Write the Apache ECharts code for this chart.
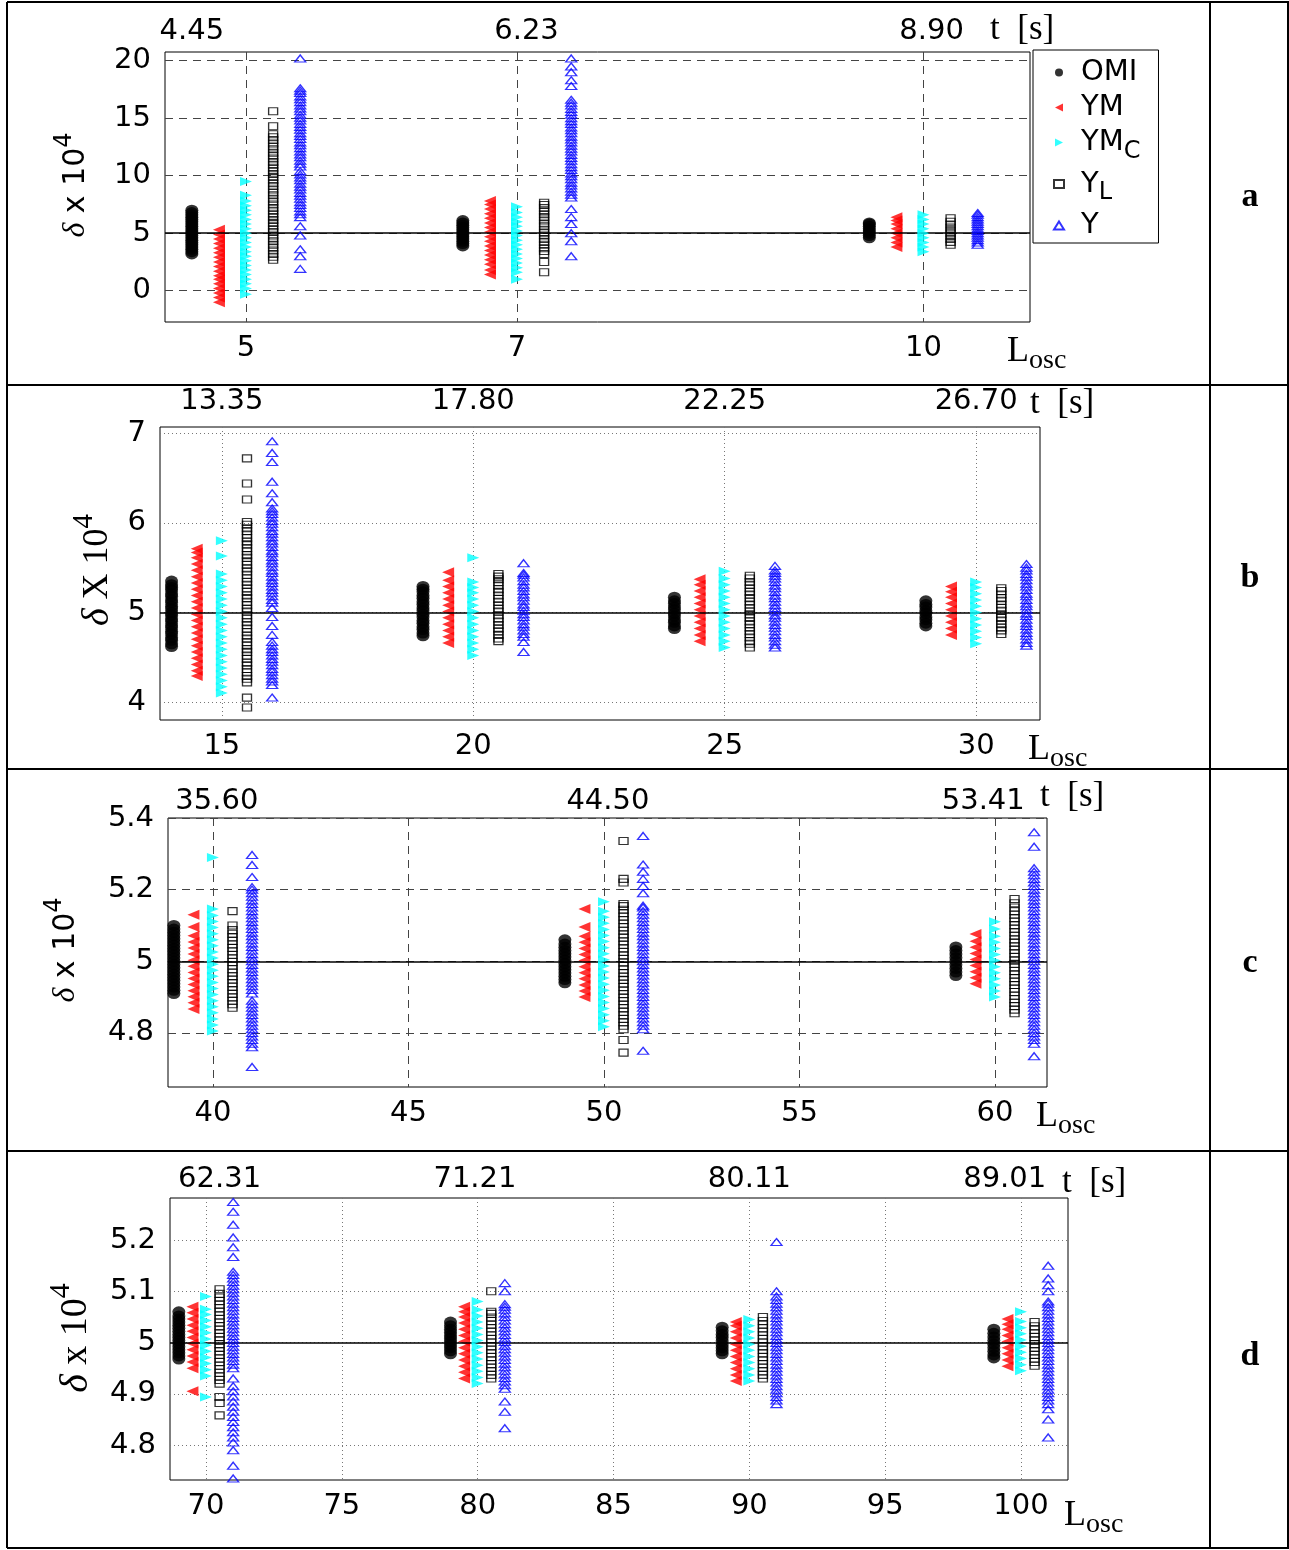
<!DOCTYPE html>
<html>
<head>
<meta charset="utf-8">
<script src="https://cdn.jsdelivr.net/npm/echarts@6.0.0/dist/echarts.min.js"></script>
<style>
html,body{margin:0;padding:0;background:#fff;}
#chart{width:1289px;height:1550px;}
</style>
</head>
<body>
<div id="chart"></div>
<script>
var names = ['OMI', 'YM', 'YMC', 'YL', 'Y'];

// panel a : L_osc 5, 7, 10
var aCenters = [5, 7, 10];
var aOffsets = [-0.4, -0.2, 0, 0.2, 0.4];
var aOMI = [
  [3.2,3.4,3.6,3.8,4.0,4.2,4.4,4.6,4.8,5.0,5.2,5.4,5.6,5.8,6.0,6.2,6.4,6.6,6.8,7.0],
  [3.9,4.1,4.3,4.5,4.7,4.9,5.1,5.3,5.5,5.7,5.9,6.1],
  [4.6,4.8,5.0,5.2,5.4,5.6,5.8,5.9]
];
var aYM = [
  [-1.0,-0.6,-0.2,0.2,0.6,1.0,1.3,1.7,2.1,2.5,2.9,3.3,3.7,4.1,4.5,4.9,5.3],
  [1.4,1.8,2.3,2.7,3.1,3.5,3.9,4.3,4.7,5.1,5.5,5.9,6.3,6.7,7.1,7.5,7.8],
  [3.8,4.2,4.6,5.0,5.4,5.8,6.1,6.4]
];
var aYMC = [
  [-0.3,0.2,0.6,1.0,1.4,1.8,2.2,2.6,3.0,3.4,3.8,4.2,4.6,5.0,5.4,5.8,6.2,6.6,7.0,7.4,7.8,8.3,9.5],
  [1.0,1.6,2.0,2.4,2.8,3.2,3.6,4.0,4.4,4.8,5.2,5.6,6.0,6.4,6.8,7.3],
  [3.4,3.8,4.2,4.6,5.0,5.4,5.8,6.2,6.6]
];
var aYL = [
  [2.7,2.95,3.2,3.5,3.75,4.0,4.3,4.55,4.8,5.1,5.35,5.6,5.9,6.15,6.4,6.7,6.95,7.2,7.5,7.75,8.0,8.3,8.55,8.8,9.1,9.35,9.6,9.9,10.15,10.4,10.7,10.95,11.2,11.5,11.75,12.0,12.3,12.55,12.8,13.1,13.35,13.6,14.3,15.6],
  [1.6,2.5,3.2,3.45,3.7,4.0,4.25,4.5,4.8,5.05,5.3,5.6,5.85,6.1,6.4,6.65,6.9,7.2,7.45,7.65],
  [4.0,4.25,4.5,4.75,5.0,5.25,5.5,5.75,6.0,6.3]
];
var aY = [
  [1.9,3.0,3.6,4.8,5.6,6.4,6.65,6.9,7.2,7.45,7.7,8.0,8.25,8.5,8.8,9.05,9.3,9.6,9.85,10.1,10.4,10.8,11.05,11.3,11.6,11.85,12.1,12.4,12.65,12.9,13.2,13.45,13.7,14.0,14.25,14.5,14.8,15.05,15.3,15.6,15.85,16.1,16.4,16.65,16.9,17.2,17.4,17.6,20.2],
  [3.0,4.3,5.0,5.8,6.4,7.1,8.1,8.35,8.6,8.9,9.15,9.4,9.7,9.95,10.2,10.5,10.75,11.0,11.3,11.55,11.8,12.1,12.35,12.6,12.9,13.15,13.4,13.7,13.95,14.2,14.5,14.75,15.0,15.3,15.55,15.8,16.1,16.35,16.6,17.8,18.3,19.0,19.5,20.2],
  [4.0,4.2,4.4,4.6,4.8,5.0,5.2,5.4,5.6,5.8,6.0,6.2,6.4,6.6,6.75]
];

// panel b : L_osc 15, 20, 25, 30
var bCenters = [15, 20, 25, 30];
var bOffsets = [-1, -0.5, 0, 0.5, 1];
var bOMI = [
  [4.62,4.65,4.69,4.72,4.76,4.79,4.83,4.86,4.90,4.93,4.97,5.00,5.04,5.07,5.11,5.14,5.18,5.21,5.25,5.28,5.31,5.35],
  [4.74,4.77,4.81,4.84,4.88,4.91,4.95,4.98,5.02,5.05,5.09,5.12,5.16,5.19,5.23,5.26,5.29],
  [4.82,4.85,4.89,4.92,4.96,4.99,5.03,5.06,5.10,5.13,5.17],
  [4.85,4.88,4.92,4.95,4.99,5.02,5.06,5.09,5.13]
];
var bYM = [
  [4.29,4.35,4.42,4.49,4.56,4.63,4.70,4.77,4.84,4.91,4.98,5.05,5.12,5.19,5.26,5.33,5.40,5.47,5.54,5.61,5.67,5.71],
  [4.66,4.73,4.80,4.87,4.94,5.01,5.08,5.15,5.22,5.29,5.36,5.45],
  [4.68,4.75,4.82,4.89,4.96,5.03,5.10,5.17,5.24,5.31,5.37],
  [4.75,4.82,4.89,4.96,5.03,5.10,5.17,5.23,5.29]
];
var bYMC = [
  [4.10,4.17,4.24,4.31,4.38,4.45,4.52,4.59,4.66,4.73,4.80,4.87,4.94,5.01,5.08,5.15,5.22,5.29,5.36,5.43,5.63,5.80],
  [4.52,4.59,4.66,4.73,4.80,4.87,4.94,5.01,5.08,5.15,5.22,5.28,5.34,5.61],
  [4.61,4.68,4.75,4.82,4.89,4.96,5.03,5.10,5.17,5.24,5.31,5.38,5.46],
  [4.65,4.72,4.79,4.86,4.93,5.00,5.07,5.14,5.21,5.28,5.34]
];
var bYL = [
  [3.94,4.05,4.22,4.26,4.29,4.33,4.37,4.41,4.44,4.48,4.52,4.56,4.59,4.63,4.67,4.71,4.74,4.78,4.82,4.86,4.89,4.93,4.97,5.01,5.04,5.08,5.12,5.16,5.19,5.23,5.27,5.31,5.34,5.38,5.42,5.46,5.49,5.53,5.57,5.61,5.64,5.68,5.72,5.76,5.79,5.83,5.87,5.91,5.94,5.98,6.01,6.26,6.44,6.72],
  [4.68,4.71,4.75,4.79,4.82,4.86,4.90,4.93,4.97,5.01,5.04,5.08,5.12,5.15,5.19,5.23,5.26,5.30,5.34,5.37,5.40,5.43],
  [4.61,4.65,4.68,4.72,4.76,4.79,4.83,4.87,4.90,4.94,4.98,5.01,5.05,5.09,5.12,5.16,5.20,5.23,5.27,5.31,5.34,5.38,5.41],
  [4.76,4.80,4.83,4.87,4.91,4.94,4.98,5.02,5.05,5.09,5.13,5.16,5.20,5.24,5.27]
];
var bY = [
  [4.05,4.19,4.23,4.26,4.30,4.34,4.37,4.41,4.45,4.48,4.52,4.56,4.59,4.63,4.67,4.75,4.85,4.95,5.05,5.11,5.14,5.18,5.22,5.25,5.29,5.33,5.36,5.40,5.44,5.47,5.51,5.55,5.58,5.62,5.66,5.69,5.73,5.77,5.80,5.84,5.88,5.91,5.95,5.99,6.02,6.06,6.10,6.13,6.16,6.23,6.33,6.46,6.68,6.78,6.91],
  [4.56,4.67,4.73,4.76,4.80,4.84,4.87,4.91,4.95,4.98,5.02,5.06,5.09,5.13,5.17,5.20,5.24,5.28,5.31,5.35,5.39,5.42,5.44,5.55],
  [4.61,4.64,4.68,4.72,4.75,4.79,4.83,4.86,4.90,4.94,4.97,5.01,5.05,5.08,5.12,5.16,5.19,5.23,5.27,5.30,5.34,5.38,5.41,5.44,5.47,5.52],
  [4.63,4.66,4.70,4.74,4.77,4.81,4.85,4.88,4.92,4.96,4.99,5.03,5.07,5.10,5.14,5.18,5.21,5.25,5.29,5.32,5.36,5.40,5.43,5.47,5.50,5.54]
];

// panel c : L_osc 40, 50, 60
var cCenters = [40, 50, 60];
var cOffsets = [-1, -0.5, 0, 0.5, 1];
var cOMI = [
  [4.910,4.919,4.928,4.937,4.946,4.955,4.964,4.973,4.982,4.991,5.000,5.009,5.018,5.027,5.036,5.045,5.054,5.063,5.072,5.081,5.090,5.100],
  [4.940,4.949,4.958,4.967,4.976,4.985,4.994,5.003,5.012,5.021,5.030,5.039,5.048,5.060],
  [4.960,4.970,4.980,4.990,5.000,5.010,5.020,5.030,5.040]
];
var cYM = [
  [4.867,4.884,4.901,4.918,4.935,4.952,4.969,4.986,5.003,5.020,5.037,5.054,5.071,5.096,5.130],
  [4.900,4.917,4.934,4.951,4.968,4.985,5.002,5.019,5.036,5.053,5.070,5.096,5.146],
  [4.937,4.954,4.971,4.988,5.005,5.022,5.039,5.056,5.076]
];
var cYMC = [
  [4.805,4.822,4.839,4.856,4.873,4.890,4.907,4.924,4.941,4.958,4.975,4.992,5.009,5.026,5.043,5.060,5.077,5.094,5.111,5.128,5.146,5.290],
  [4.817,4.834,4.851,4.868,4.885,4.902,4.919,4.936,4.953,4.970,4.987,5.004,5.021,5.038,5.055,5.072,5.089,5.106,5.123,5.140,5.166],
  [4.900,4.917,4.934,4.951,4.968,4.985,5.002,5.019,5.036,5.053,5.070,5.090,5.110]
];
var cYL = [
  [4.870,4.880,4.890,4.899,4.909,4.919,4.929,4.939,4.949,4.958,4.968,4.978,4.988,4.998,5.008,5.018,5.028,5.037,5.047,5.057,5.067,5.077,5.087,5.100,5.140],
  [4.745,4.780,4.810,4.820,4.830,4.839,4.849,4.859,4.869,4.879,4.889,4.898,4.908,4.918,4.928,4.938,4.948,4.957,4.967,4.977,4.987,4.997,5.007,5.016,5.026,5.036,5.046,5.056,5.066,5.075,5.085,5.095,5.105,5.115,5.125,5.134,5.144,5.154,5.160,5.220,5.230,5.336],
  [4.855,4.865,4.875,4.884,4.894,4.904,4.914,4.924,4.934,4.943,4.953,4.963,4.973,4.983,4.993,5.002,5.012,5.022,5.032,5.042,5.052,5.061,5.071,5.081,5.091,5.101,5.111,5.120,5.130,5.140,5.150,5.162,5.174]
];
var cY = [
  [4.705,4.760,4.770,4.780,4.790,4.800,4.810,4.820,4.830,4.840,4.850,4.860,4.870,4.880,4.890,4.910,4.920,4.930,4.940,4.950,4.960,4.970,4.980,4.990,5.000,5.010,5.020,5.030,5.040,5.050,5.060,5.070,5.080,5.090,5.100,5.110,5.120,5.130,5.140,5.150,5.160,5.170,5.180,5.190,5.200,5.207,5.235,5.269,5.297],
  [4.750,4.810,4.820,4.830,4.840,4.850,4.860,4.870,4.880,4.890,4.900,4.910,4.920,4.930,4.940,4.950,4.960,4.970,4.980,4.990,5.000,5.010,5.020,5.030,5.040,5.050,5.060,5.070,5.080,5.090,5.100,5.110,5.120,5.130,5.140,5.150,5.155,5.190,5.210,5.230,5.250,5.270,5.350],
  [4.735,4.770,4.780,4.790,4.800,4.810,4.820,4.830,4.840,4.850,4.860,4.870,4.880,4.890,4.900,4.910,4.920,4.930,4.940,4.950,4.960,4.970,4.980,4.990,5.000,5.010,5.020,5.030,5.040,5.050,5.060,5.070,5.080,5.090,5.100,5.110,5.120,5.130,5.140,5.150,5.160,5.170,5.180,5.190,5.200,5.210,5.220,5.230,5.240,5.250,5.260,5.320,5.360]
];

// panel d : L_osc 70, 80, 90, 100
var dCenters = [70, 80, 90, 100];
var dOffsets = [-1, -0.5, 0, 0.5, 1];
var dOMI = [
  [4.968,4.974,4.980,4.986,4.992,4.998,5.004,5.010,5.016,5.022,5.028,5.034,5.040,5.046,5.052,5.060],
  [4.978,4.984,4.990,4.996,5.002,5.008,5.014,5.020,5.026,5.033,5.040],
  [4.978,4.984,4.990,4.996,5.003,5.010,5.016,5.023,5.030],
  [4.970,4.976,4.983,4.990,4.997,5.004,5.011,5.018,5.026]
];
var dYM = [
  [4.905,4.950,4.962,4.974,4.986,4.998,5.010,5.022,5.034,5.046,5.058,5.070],
  [4.930,4.942,4.954,4.966,4.978,4.990,5.002,5.014,5.026,5.038,5.050,5.060,5.070],
  [4.925,4.937,4.949,4.961,4.973,4.985,4.997,5.009,5.021,5.033,5.040],
  [4.954,4.966,4.978,4.990,5.002,5.014,5.026,5.036,5.046]
];
var dYMC = [
  [4.894,4.935,4.947,4.959,4.971,4.983,4.995,5.007,5.019,5.031,5.043,5.055,5.065,5.090],
  [4.920,4.932,4.944,4.956,4.968,4.980,4.992,5.004,5.016,5.028,5.040,5.052,5.064,5.080],
  [4.925,4.937,4.949,4.961,4.973,4.985,4.997,5.009,5.021,5.033,5.045],
  [4.945,4.957,4.969,4.981,4.993,5.005,5.017,5.029,5.041,5.060]
];
var dYL = [
  [4.858,4.882,4.894,4.920,4.927,4.934,4.941,4.948,4.955,4.962,4.969,4.976,4.983,4.990,4.997,5.004,5.011,5.018,5.025,5.032,5.039,5.046,5.053,5.060,5.067,5.074,5.081,5.088,5.095,5.104],
  [4.930,4.937,4.944,4.951,4.958,4.965,4.972,4.979,4.986,4.993,5.000,5.007,5.014,5.021,5.028,5.035,5.042,5.049,5.056,5.060,5.100],
  [4.930,4.937,4.944,4.951,4.958,4.965,4.972,4.979,4.986,4.993,5.000,5.007,5.014,5.021,5.028,5.035,5.042,5.050],
  [4.955,4.962,4.969,4.976,4.983,4.990,4.997,5.004,5.011,5.018,5.025,5.032,5.040]
];
var dY = [
  [4.735,4.760,4.790,4.805,4.815,4.825,4.835,4.845,4.855,4.865,4.875,4.885,4.895,4.905,4.915,4.930,4.950,4.957,4.964,4.971,4.978,4.985,4.992,4.999,5.006,5.013,5.020,5.027,5.034,5.041,5.048,5.055,5.062,5.069,5.076,5.083,5.090,5.097,5.104,5.111,5.118,5.125,5.132,5.138,5.167,5.186,5.205,5.230,5.255,5.274],
  [4.833,4.865,4.885,4.910,4.917,4.924,4.931,4.938,4.945,4.952,4.959,4.966,4.973,4.980,4.987,4.994,5.001,5.008,5.015,5.022,5.029,5.036,5.043,5.050,5.057,5.064,5.070,5.075,5.100,5.116],
  [4.880,4.887,4.894,4.901,4.908,4.915,4.922,4.929,4.936,4.943,4.950,4.957,4.964,4.971,4.978,4.985,4.992,4.999,5.006,5.013,5.020,5.027,5.034,5.041,5.048,5.055,5.062,5.069,5.076,5.083,5.090,5.100,5.196],
  [4.815,4.850,4.870,4.880,4.887,4.894,4.901,4.908,4.915,4.922,4.929,4.936,4.943,4.950,4.957,4.964,4.971,4.978,4.985,4.992,4.999,5.006,5.013,5.020,5.027,5.034,5.041,5.048,5.055,5.062,5.069,5.076,5.080,5.100,5.112,5.125,5.150]
];

// axis ticks (bottom L_osc, left delta, top time labels)
var aXTicks = [5, 7, 10], aYTicks = [0, 5, 10, 15, 20];
var aTopPos = [4.6, 7.07, 10.06], aTopLbl = ['4.45', '6.23', '8.90'];
var bXTicks = [15, 20, 25, 30], bYTicks = [4, 5, 6, 7];
var bTopPos = [15, 20, 25, 30], bTopLbl = ['13.35', '17.80', '22.25', '26.70'];
var cXTicks = [40, 45, 50, 55, 60], cYTicks = [4.8, 5, 5.2, 5.4];
var cTopPos = [40.1, 50.1, 59.7], cTopLbl = ['35.60', '44.50', '53.41'];
var dXTicks = [70, 75, 80, 85, 90, 95, 100], dYTicks = [4.8, 4.9, 5, 5.1, 5.2];
var dTopPos = [70.5, 79.9, 90, 99.4], dTopLbl = ['62.31', '71.21', '80.11', '89.01'];

var chart = echarts.init(document.getElementById('chart'));

var numFont = 'DejaVu Sans';
var dashed = {color: '#444', type: [8, 6], width: 1};
var dotted = {color: '#777', type: [1, 3], width: 1};

var panels = [
  {grid: {left: 165, top: 52, width: 865, height: 270}, x: [4.402, 10.786], y: [-2.72, 20.76],
   centers: aCenters, off: aOffsets, data: [aOMI, aYM, aYMC, aYL, aY], tm: 6,
   xt: aXTicks, yt: aYTicks, tp: aTopPos, tl: aTopLbl, grid_line: dashed},
  {grid: {left: 160, top: 427, width: 880, height: 293}, x: [13.77, 31.27], y: [3.80, 7.07],
   centers: bCenters, off: bOffsets, data: [bOMI, bYM, bYMC, bYL, bY], tm: 11,
   xt: bXTicks, yt: bYTicks, tp: bTopPos, tl: bTopLbl, grid_line: dotted},
  {grid: {left: 168, top: 818, width: 879, height: 269}, x: [38.85, 61.33], y: [4.649, 5.4],
   centers: cCenters, off: cOffsets, data: [cOMI, cYM, cYMC, cYL, cY], tm: 2,
   xt: cXTicks, yt: cYTicks, tp: cTopPos, tl: cTopLbl, grid_line: dashed},
  {grid: {left: 170, top: 1198, width: 898, height: 282}, x: [68.675, 101.73], y: [4.732, 5.282],
   centers: dCenters, off: dOffsets, data: [dOMI, dYM, dYMC, dYL, dY], tm: 4,
   xt: dXTicks, yt: dYTicks, tp: dTopPos, tl: dTopLbl, grid_line: dotted}
];

var styles = {
  OMI: {symbol: 'circle', symbolSize: [13, 11], itemStyle: {color: '#000'}},
  YM: {symbol: 'triangle', symbolSize: [10, 12], symbolRotate: 90, itemStyle: {color: '#ff0000'}},
  YMC: {symbol: 'triangle', symbolSize: [9, 12], symbolRotate: -90, itemStyle: {color: '#00ffff'}},
  YL: {symbol: 'rect', symbolSize: [9, 7], itemStyle: {color: 'rgba(255,255,255,0)', borderColor: '#000', borderWidth: 1.2}},
  Y: {symbol: 'triangle', symbolSize: [11, 7], itemStyle: {color: 'rgba(255,255,255,0)', borderColor: '#0000ff', borderWidth: 1.3}}
};

var grids = [], xAxes = [], yAxes = [], series = [];

panels.forEach(function (p, gi) {
  grids.push(Object.assign({show: true, borderColor: '#000', borderWidth: 1, outerBoundsMode: 'none', containLabel: false}, p.grid));
  xAxes.push({
    gridIndex: gi, type: 'value', position: 'bottom', min: p.x[0], max: p.x[1],
    axisLine: {show: false},
    axisTick: {show: false, customValues: p.xt},
    axisLabel: {customValues: p.xt, color: '#000', fontFamily: numFont, fontSize: 29, margin: 12},
    splitLine: {show: true, lineStyle: p.grid_line}
  });
  xAxes.push({
    gridIndex: gi, type: 'value', position: 'top', min: p.x[0], max: p.x[1],
    axisLine: {show: false},
    axisTick: {show: false, customValues: p.tp},
    axisLabel: {
      customValues: p.tp, color: '#000', fontFamily: numFont, fontSize: 29, margin: p.tm,
      formatter: function (v) { return p.tl[p.tp.indexOf(v)]; }
    },
    splitLine: {show: false}
  });
  yAxes.push({
    gridIndex: gi, type: 'value', min: p.y[0], max: p.y[1],
    axisLine: {show: false},
    axisTick: {show: false, customValues: p.yt},
    axisLabel: {customValues: p.yt, color: '#000', fontFamily: numFont, fontSize: 29, margin: 14},
    splitLine: {show: true, lineStyle: p.grid_line}
  });
  names.forEach(function (n, si) {
    var pts = [];
    p.data[si].forEach(function (list, k) {
      list.forEach(function (v) { pts.push([p.centers[k] + p.off[si], v]); });
    });
    var s = Object.assign({
      name: n, type: 'scatter', xAxisIndex: gi * 2, yAxisIndex: gi, data: pts, z: 3 + si
    }, styles[n]);
    if (si === 0) {
      s.markLine = {
        silent: true, symbol: 'none', label: {show: false},
        lineStyle: {color: '#000', type: 'solid', width: 1.5},
        data: [{yAxis: 5}]
      };
    }
    series.push(s);
  });
});

function yTitle(x, y, xw, serif, size) {
  var fam = serif ? 'Liberation Serif' : 'DejaVu Sans';
  return {
    type: 'text', x: x, y: y, rotation: Math.PI / 2, z: 10,
    style: {
      text: '{d|δ}{t| ' + xw + ' 10}{s|4}', align: 'center', verticalAlign: 'middle',
      rich: {
        d: {fontFamily: 'Liberation Serif', fontStyle: 'italic', fontSize: size + 2, fill: '#000'},
        t: {fontFamily: fam, fontSize: size, fill: '#000'},
        s: {fontFamily: fam, fontSize: Math.round(size * 0.8), fill: '#000', padding: [0, 0, Math.round(size * 0.75), 0]}
      }
    }
  };
}
function tLabel(x, y) {
  return {type: 'text', x: x, y: y, z: 10,
    style: {text: 't  [s]', font: '35px "Liberation Serif"', fill: '#000', verticalAlign: 'middle'}};
}
function lLabel(x, y) {
  return {type: 'text', x: x, y: y, z: 10,
    style: {
      text: '{L|L}{o|osc}', verticalAlign: 'middle',
      rich: {
        L: {fontFamily: 'Liberation Serif', fontSize: 36, fill: '#000'},
        o: {fontFamily: 'Liberation Serif', fontSize: 28, fill: '#000', padding: [18, 0, 0, 0]}
      }
    }};
}
function hLine(y, x1, x2) {
  return {type: 'line', shape: {x1: x1, y1: y, x2: x2, y2: y}, style: {stroke: '#000', lineWidth: 2}, z: 10};
}
function vLine(x, y1, y2) {
  return {type: 'line', shape: {x1: x, y1: y1, x2: x, y2: y2}, style: {stroke: '#000', lineWidth: 2}, z: 10};
}
function letter(t, y) {
  return {type: 'text', x: 1250, y: y, z: 10,
    style: {text: t, font: 'bold 34px "Liberation Serif"', fill: '#000', align: 'center', verticalAlign: 'middle'}};
}

var graphics = [
  hLine(2, 7, 1289), hLine(385, 7, 1289), hLine(769, 7, 1289), hLine(1151, 7, 1289), hLine(1548, 7, 1289),
  vLine(7, 2, 1548), vLine(1210, 2, 1548), vLine(1288, 2, 1548),
  letter('a', 197), letter('b', 578), letter('c', 963), letter('d', 1356),
  yTitle(76, 185, 'x', false, 30), yTitle(98, 570, 'X', true, 36), yTitle(66, 950, 'x', false, 30), yTitle(76, 1338, 'x', true, 38),
  tLabel(990, 30), tLabel(1030, 404), tLabel(1040, 797), tLabel(1062, 1183),
  lLabel(1007, 352), lLabel(1028, 750), lLabel(1036, 1117), lLabel(1064, 1516)
];

var option = {
  animation: false,
  backgroundColor: '#fff',
  textStyle: {fontFamily: numFont, color: '#000'},
  grid: grids,
  xAxis: xAxes,
  yAxis: yAxes,
  legend: {
    data: [
      {name: 'OMI', icon: 'circle'},
      {name: 'YM', icon: 'path://M0,5L10,0L10,10Z'},
      {name: 'YMC', icon: 'path://M10,5L0,0L0,10Z'},
      {name: 'YL', icon: 'rect'},
      {name: 'Y', icon: 'triangle'}
    ],
    orient: 'vertical', left: 1033, top: 50,
    padding: [8, 18, 3, 20], itemGap: 6, itemWidth: 10, itemHeight: 8,
    borderColor: '#000', borderWidth: 1, backgroundColor: '#fff',
    textStyle: {
      fontFamily: numFont, fontSize: 29, color: '#000',
      rich: {
        g: {width: 12},
        n: {fontFamily: numFont, fontSize: 29, color: '#000'},
        s: {fontFamily: numFont, fontSize: 24, color: '#000', padding: [18, 0, 0, 0]}
      }
    },
    formatter: function (n) {
      if (n === 'YMC') return '{g| }{n|YM}{s|C}';
      if (n === 'YL') return '{g| }{n|Y}{s|L}';
      return '{g| }{n|' + n + '}';
    }
  },
  graphic: graphics,
  series: series
};
chart.setOption(option);
</script>
</body>
</html>
